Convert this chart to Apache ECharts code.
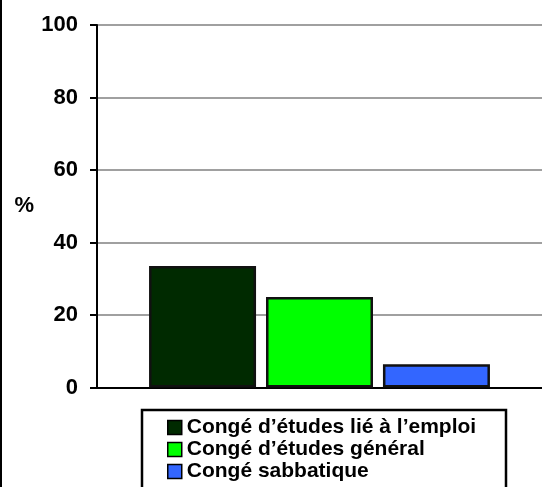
<!DOCTYPE html>
<html>
<head>
<meta charset="utf-8">
<script src="https://cdn.jsdelivr.net/npm/echarts@6/dist/echarts.min.js"></script>
<style>
  html, body { margin: 0; padding: 0; background: #fff; }
  #chart { width: 542px; height: 487px; }
</style>
</head>
<body>
<div id="chart"></div>
<script>
// Types of leave and their share (%)
const categories = [''];
const seriesNames = [
  'Congé d\u2019études lié à l\u2019emploi',
  'Congé d\u2019études général',
  'Congé sabbatique'
];
const seriesValues = [33.5, 25.0, 6.4];
const seriesColors = ['#002a00', '#00ff00', '#3366ff'];
const yTicks = [0, 20, 40, 60, 80, 100];

const font = 'Arial, "Liberation Sans", sans-serif';

const chart = echarts.init(document.getElementById('chart'), null, { renderer: 'canvas' });

const series = seriesNames.map((name, i) => ({
  name: name,
  type: 'bar',
  data: [seriesValues[i]],
  barWidth: 107,
  barGap: '9.3%',
  itemStyle: { color: seriesColors[i], borderColor: '#111', borderWidth: 2.5 },
  emphasis: { disabled: true },
  animation: false
}));

chart.setOption({
  animation: false,
  grid: { left: 97, right: -5, top: 25, bottom: 99.5, containLabel: false },
  xAxis: {
    type: 'category',
    data: categories,
    axisLine: { show: true, lineStyle: { color: '#000', width: 2 } },
    axisTick: { show: false },
    axisLabel: { show: false },
    splitLine: { show: false }
  },
  yAxis: {
    type: 'value',
    min: yTicks[0],
    max: yTicks[yTicks.length - 1],
    interval: yTicks[1] - yTicks[0],
    name: '%',
    nameLocation: 'middle',
    nameRotate: 0,
    nameGap: 63,
    nameTextStyle: { fontFamily: font, fontWeight: 'bold', fontSize: 22, color: '#000', padding: [24, 0, 0, 0] },
    axisLine: { show: true, lineStyle: { color: '#000', width: 2 } },
    axisTick: { show: true, inside: false, length: 7, lineStyle: { color: '#000', width: 2 } },
    axisLabel: { fontFamily: font, fontWeight: 'bold', fontSize: 22, color: '#000', margin: 19 },
    splitLine: { show: true, lineStyle: { color: '#a0a0a0', width: 2 } }
  },
  legend: {
    orient: 'vertical',
    left: 167,
    top: 417,
    itemWidth: 14,
    itemHeight: 14,
    itemGap: 1,
    icon: 'rect',
    selectedMode: false,
    padding: 0,
    itemStyle: { borderColor: '#000', borderWidth: 1.5 },
    textStyle: { fontFamily: font, fontWeight: 'bold', fontSize: 21, lineHeight: 20, color: '#000' },
    data: seriesNames
  },
  graphic: [
    {
      type: 'rect',
      shape: { x: 142, y: 410, width: 364, height: 100 },
      style: { fill: 'none', stroke: '#000', lineWidth: 2.5 },
      silent: true,
      z: 10
    },
    {
      type: 'line',
      shape: { x1: 1, y1: 0, x2: 1, y2: 487 },
      style: { stroke: '#000', lineWidth: 2 },
      silent: true,
      z: 10
    }
  ],
  series: series
});
</script>
</body>
</html>
